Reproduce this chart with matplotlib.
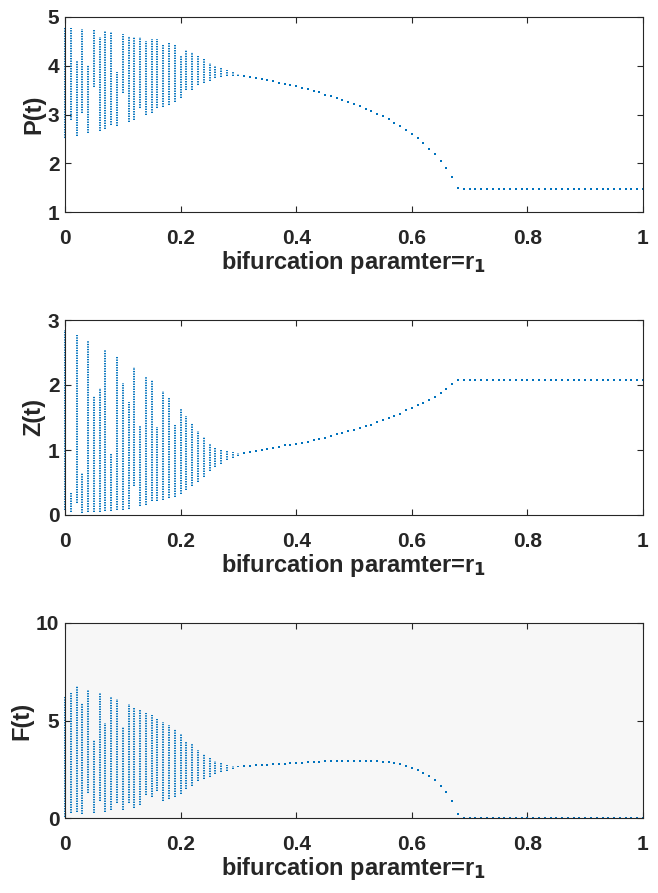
import numpy as np
import matplotlib
matplotlib.use("Agg")
import matplotlib.pyplot as plt

plt.rcParams['font.family'] = ['Liberation Sans', 'DejaVu Sans']
plt.rcParams['font.weight'] = 'bold'
plt.rcParams['mathtext.fontset'] = 'custom'
plt.rcParams['mathtext.rm'] = 'Liberation Sans:bold'
plt.rcParams['mathtext.it'] = 'Liberation Sans:bold'

# bifurcation parameter r1, step 0.01
r_osc = np.round(np.arange(0, 0.305, 0.01), 2)      # oscillating columns 0 .. 0.30
r_eq = np.round(np.arange(0.31, 1.005, 0.01), 2)    # single equilibrium point 0.31 .. 1.00

# P(t): column max / min in the oscillating range, then equilibrium
p_hi = [4.78, 4.77, 4.09, 4.75, 4.02, 4.74, 4.60, 4.71, 4.69, 3.88, 4.66, 4.62, 4.60, 4.60, 4.50, 4.55,
        4.54, 4.42, 4.47, 4.43, 4.19, 4.33, 4.28, 4.21, 4.13, 4.06, 4.00, 3.95, 3.91, 3.87, 3.84]
p_lo = [2.52, 2.88, 2.55, 3.04, 2.62, 3.56, 2.67, 2.71, 2.78, 2.77, 3.45, 2.84, 2.89, 3.13, 2.98, 3.03,
        3.13, 3.15, 3.19, 3.25, 3.33, 3.50, 3.51, 3.61, 3.65, 3.69, 3.74, 3.76, 3.78, 3.79, 3.80]
p_eq = [3.79, 3.76, 3.74, 3.72, 3.70, 3.68, 3.65, 3.63, 3.61, 3.58, 3.55, 3.52, 3.48, 3.46, 3.41, 3.38,
        3.34, 3.30, 3.26, 3.22, 3.17, 3.12, 3.07, 3.02, 2.96, 2.90, 2.83, 2.76, 2.68, 2.60, 2.51, 2.41,
        2.30, 2.18, 2.05, 1.90, 1.72, 1.50] + [1.47] * 32

# Z(t)
z_hi = [2.85, 0.34, 2.77, 0.64, 2.68, 1.83, 1.96, 2.54, 0.95, 2.44, 2.03, 1.74, 2.27, 1.37, 2.13, 2.07,
        1.35, 1.91, 1.82, 1.38, 1.63, 1.52, 1.41, 1.29, 1.20, 1.10, 1.03, 1.00, 0.98, 0.97, 0.96]
z_lo = [0.08, 0.04, 0.19, 0.03, 0.04, 0.04, 0.05, 0.06, 0.06, 0.07, 0.08, 0.09, 0.45, 0.14, 0.15, 0.21,
        0.22, 0.23, 0.26, 0.28, 0.33, 0.38, 0.44, 0.51, 0.59, 0.68, 0.74, 0.79, 0.84, 0.87, 0.91]
z_eq = [0.95, 0.97, 0.99, 1.00, 1.02, 1.03, 1.05, 1.07, 1.08, 1.10, 1.11, 1.13, 1.15, 1.17, 1.19, 1.22,
        1.24, 1.26, 1.29, 1.31, 1.34, 1.37, 1.39, 1.43, 1.46, 1.49, 1.53, 1.56, 1.61, 1.65, 1.69, 1.73,
        1.77, 1.82, 1.88, 1.94, 2.01, 2.08] + [2.08] * 32

# F(t)
f_hi = [6.20, 6.40, 6.75, 5.90, 6.55, 4.00, 6.40, 4.85, 6.20, 6.10, 4.65, 5.85, 5.70, 5.55, 5.40, 5.28,
        5.10, 4.94, 4.75, 4.55, 4.30, 3.90, 3.80, 3.50, 3.30, 3.10, 2.92, 2.80, 2.74, 2.69, 2.67]
f_lo = [0.05, 0.25, 0.30, 0.22, 1.28, 0.27, 0.88, 0.30, 0.40, 0.75, 0.40, 0.78, 0.50, 0.66, 1.20, 1.10,
        1.37, 0.88, 0.95, 1.10, 1.25, 1.50, 1.62, 1.90, 2.02, 2.12, 2.25, 2.35, 2.43, 2.50, 2.60]
f_eq = [2.67, 2.68, 2.70, 2.72, 2.74, 2.75, 2.77, 2.79, 2.80, 2.82, 2.84, 2.85, 2.87, 2.89, 2.91, 2.91,
        2.92, 2.92, 2.94, 2.94, 2.94, 2.94, 2.92, 2.91, 2.89, 2.85, 2.80, 2.75, 2.68, 2.58, 2.46, 2.32,
        2.15, 1.95, 1.66, 1.32, 0.87, 0.21] + [0.02] * 32

blue = '#0072BD'
panels = [
    ('P(t)', p_hi, p_lo, p_eq, (1, 5), [1, 2, 3, 4, 5], 'white'),
    ('Z(t)', z_hi, z_lo, z_eq, (0, 3), [0, 1, 2, 3], 'white'),
    ('F(t)', f_hi, f_lo, f_eq, (0, 10), [0, 5, 10], '#f7f7f7'),
]

fig = plt.figure(figsize=(6.58, 8.93), dpi=100)
W, H = 658, 893
tops = [17, 320, 623]
for (ylab, hi, lo, eq, ylim, yticks, face), top in zip(panels, tops):
    ax = fig.add_axes([65 / W, 1 - (top + 195) / H, 578 / W, 195 / H])
    ax.set_facecolor(face)
    ax.vlines(r_osc, lo, hi, colors=blue, linewidth=1.4, linestyles=(0, (0.7, 0.6)), clip_on=False)
    ax.plot(r_eq, eq, linestyle='none', marker='s', markersize=1.7, color=blue, markeredgewidth=0,
            clip_on=False)
    ax.set_xlim(0, 1)
    ax.set_ylim(*ylim)
    ax.set_xticks([0, 0.2, 0.4, 0.6, 0.8, 1])
    ax.set_xticklabels(['0', '0.2', '0.4', '0.6', '0.8', '1'])
    ax.set_yticks(yticks)
    ax.tick_params(direction='in', top=True, right=True, length=4, width=0.8,
                   labelsize=15, color='#262626', labelcolor='#262626')
    ax.tick_params(axis='x', pad=12)
    ax.tick_params(axis='y', pad=4)
    for s in ax.spines.values():
        s.set_color('#262626')
        s.set_linewidth(0.8)
    ax.set_ylabel(ylab, fontsize=17, fontweight='bold', color='#262626', labelpad=2)
    ax.set_xlabel(r'bifurcation paramter=r$_{\mathbf{1}}$', fontsize=17, fontweight='bold',
                  color='#262626', labelpad=1)

fig.savefig('out.png', dpi=100)
